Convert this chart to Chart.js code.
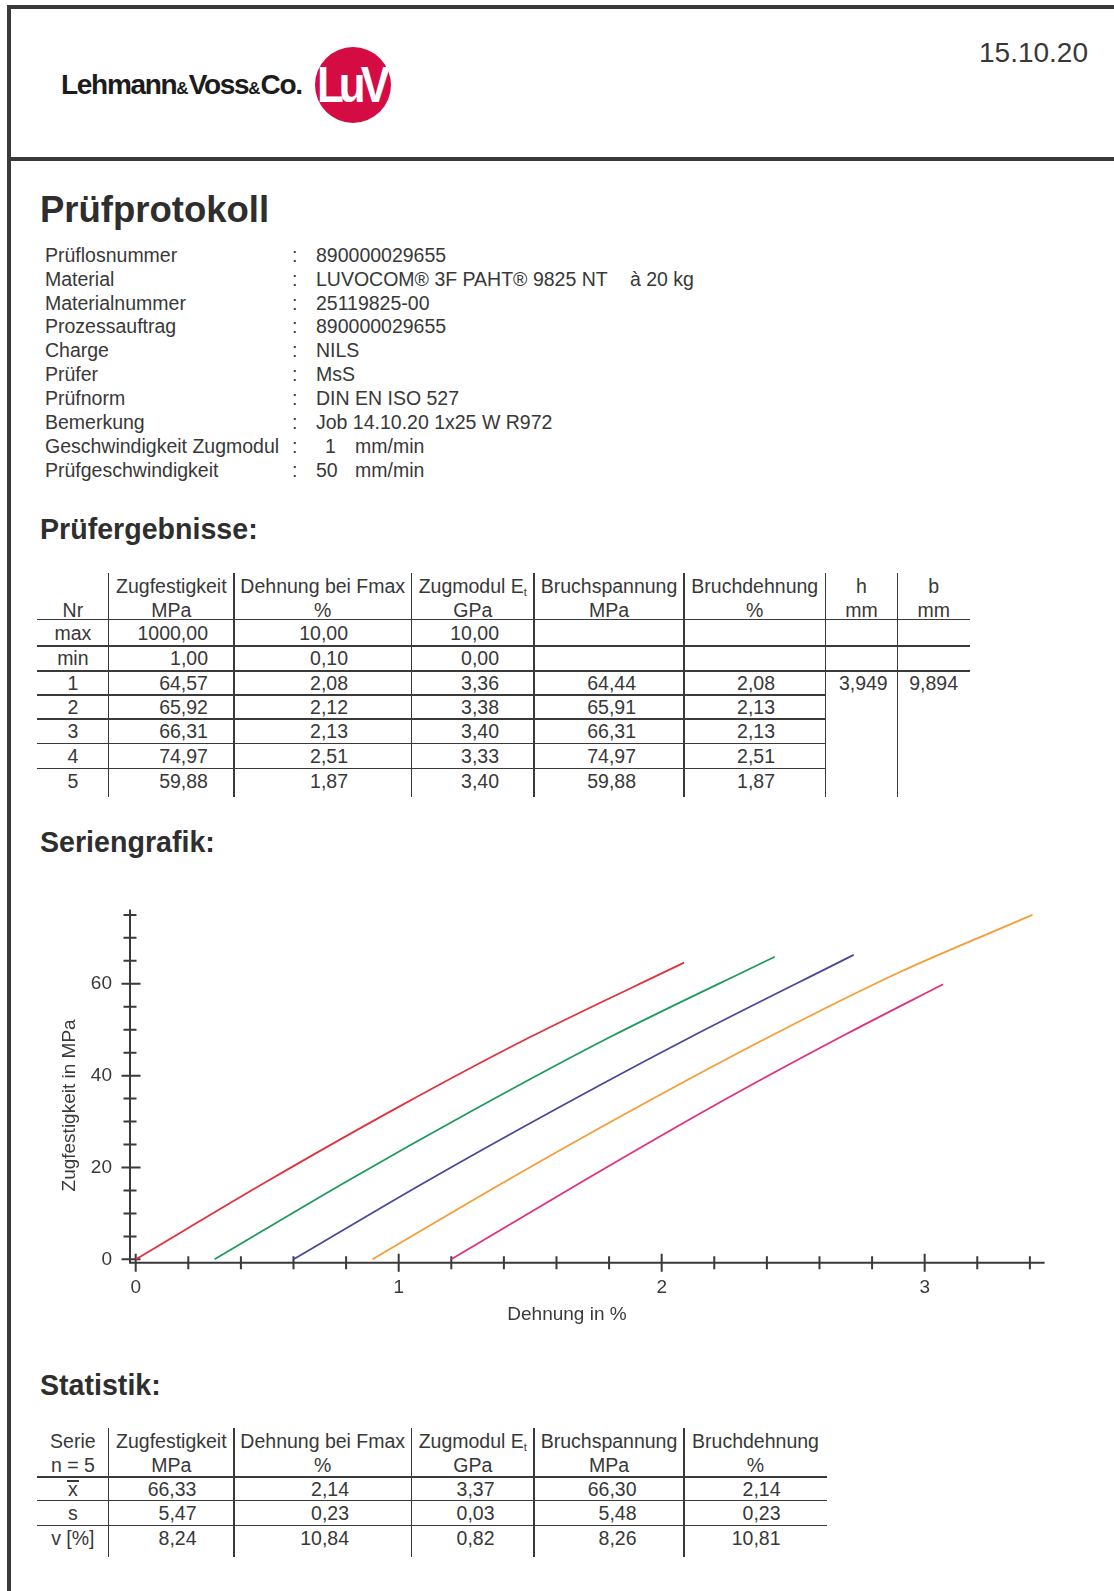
<!DOCTYPE html>
<html lang="de">
<head>
<meta charset="utf-8">
<title>Prüfprotokoll</title>
<script src="https://cdn.jsdelivr.net/npm/chart.js@4.4.0/dist/chart.umd.min.js"></script>
<style>
  html, body { margin: 0; padding: 0; background: #fff; }
  body {
    width: 1114px; height: 1591px; position: relative; overflow: hidden;
    font-family: "Liberation Sans", Arial, sans-serif; color: #383838;
  }
  .abs { position: absolute; white-space: nowrap; }
  .rule { position: absolute; background: #3a3a3a; }
  .h1 { font-weight: bold; font-size: 36.5px; line-height: 44px; color: #2e2e2e; }
  .h2 { font-weight: bold; font-size: 28.6px; line-height: 34px; color: #2e2e2e; }
  .txt { font-size: 19.5px; line-height: 24px; }
  .cell { position: absolute; white-space: nowrap; font-size: 19.5px; line-height: 24px; height: 24px; }
  .cell sub { font-size: 11px; vertical-align: -3px; }
  .bar { display: inline-block; border-top: 2.5px solid #383838; line-height: 15px; padding: 0 1px; }
  #logoText { left: 61px; top: 69px; font-size: 28px; line-height: 32px; font-weight: bold; color: #1c1c1c; letter-spacing: -1.3px; }
  #logoText .amp { font-size: 17px; letter-spacing: 0; }
  #logoCircle {
    position: absolute; left: 315px; top: 47px; width: 76px; height: 76px; border-radius: 50%;
    background: #d50b43; color: #fff; text-align: center;
    font: bold 44px/76px "Liberation Sans", Arial, sans-serif; letter-spacing: -5px;
  }
  #logoCircle span { display: inline-block; transform: scaleY(1.15); margin-left: -4px; }
  #chartBox { position: absolute; left: 40px; top: 880px; width: 1040px; height: 460px; }
</style>
</head>
<body>

<!-- Rahmen -->
<div class="rule" style="left:7px; top:5px; width:1107px; height:3.5px;"></div>
<div class="rule" style="left:7px; top:5px; width:4px; height:1586px;"></div>
<div class="rule" style="left:7px; top:156.5px; width:1107px; height:4.5px;"></div>

<!-- Kopf -->
<div id="logoText" class="abs">Lehmann<span class="amp">&amp;</span>Voss<span class="amp">&amp;</span>Co.</div>
<div id="logoCircle"><span>LuV</span></div>
<div class="abs" style="left:979px; top:36px; font-size:28px; line-height:34px;">15.10.20</div>

<div class="abs h1" style="left:40px; top:188px;">Prüfprotokoll</div>
<div id="info"></div>

<div class="abs h2" style="left:40px; top:512px;">Prüfergebnisse:</div>
<div id="results"></div>

<div class="abs h2" style="left:40px; top:825px;">Seriengrafik:</div>
<div id="chartBox"><canvas id="curveChart" width="1040" height="460"></canvas></div>

<div class="abs h2" style="left:40px; top:1368px;">Statistik:</div>
<div id="stats"></div>

<script>
// ---- Kopfdaten ----
const infoLabels = ['Prüflosnummer', 'Material', 'Materialnummer', 'Prozessauftrag', 'Charge',
  'Prüfer', 'Prüfnorm', 'Bemerkung', 'Geschwindigkeit Zugmodul', 'Prüfgeschwindigkeit'];
const infoValues = ['890000029655', 'LUVOCOM® 3F PAHT® 9825 NT', '25119825-00', '890000029655', 'NILS',
  'MsS', 'DIN EN ISO 527', 'Job 14.10.20 1x25 W R972', '1', '50'];
const infoExtras = ['', 'à 20 kg', '', '', '', '', '', '', 'mm/min', 'mm/min'];

// ---- Prüfergebnisse ----
const resultHead1 = ['', 'Zugfestigkeit', 'Dehnung bei Fmax', 'Zugmodul E<sub>t</sub>', 'Bruchspannung', 'Bruchdehnung', 'h', 'b'];
const resultHead2 = ['Nr', 'MPa', '%', 'GPa', 'MPa', '%', 'mm', 'mm'];
const resultRows = [
  ['max', '1000,00', '10,00', '10,00', '', '', '', ''],
  ['min', '1,00', '0,10', '0,00', '', '', '', ''],
  ['1', '64,57', '2,08', '3,36', '64,44', '2,08', '3,949', '9,894'],
  ['2', '65,92', '2,12', '3,38', '65,91', '2,13', '', ''],
  ['3', '66,31', '2,13', '3,40', '66,31', '2,13', '', ''],
  ['4', '74,97', '2,51', '3,33', '74,97', '2,51', '', ''],
  ['5', '59,88', '1,87', '3,40', '59,88', '1,87', '', '']
];

// ---- Statistik ----
const statHead1 = ['Serie', 'Zugfestigkeit', 'Dehnung bei Fmax', 'Zugmodul E<sub>t</sub>', 'Bruchspannung', 'Bruchdehnung'];
const statHead2 = ['n = 5', 'MPa', '%', 'GPa', 'MPa', '%'];
const statRows = [
  ['<span class="bar">x</span>', '66,33', '2,14', '3,37', '66,30', '2,14'],
  ['s', '5,47', '0,23', '0,03', '5,48', '0,23'],
  ['v [%]', '8,24', '10,84', '0,82', '8,26', '10,81']
];

// ---- Seriengrafik: Spannungs-Dehnungs-Kurven (Dehnung in %, Zugfestigkeit in MPa) ----
const strain1 = [0, 0.5, 1.0, 1.5, 2.085];
const stress1 = [0, 17.0, 33.2, 48.4, 64.6];
const strain2 = [0.3, 0.8, 1.3, 1.8, 2.43];
const stress2 = [0, 16.9, 33.0, 48.3, 65.9];
const strain3 = [0.6, 1.1, 1.6, 2.1, 2.73];
const stress3 = [0, 16.8, 32.8, 48.1, 66.3];
const strain4 = [0.9, 1.4, 1.9, 2.4, 2.9, 3.41];
const stress4 = [0, 16.8, 32.9, 48.2, 62.4, 75.0];
const strain5 = [1.2, 1.7, 2.2, 2.7, 3.07];
const stress5 = [0, 17.0, 33.5, 49.0, 59.9];
const seriesColors = ['#e1323d', '#1f9a5f', '#4a489b', '#f59d37', '#e03082'];

const xTickMarks = [0, 0.2, 0.4, 0.6, 0.8, 1, 1.2, 1.4, 1.6, 1.8, 2, 2.2, 2.4, 2.6, 2.8, 3, 3.2, 3.4];
const xTickLabels = [0, 1, 2, 3];
const yTickMarks = [0, 5, 10, 15, 20, 25, 30, 35, 40, 45, 50, 55, 60, 65, 70, 75];
const yTickLabels = [0, 20, 40, 60];
const xTitle = 'Dehnung in %';
const yTitle = 'Zugfestigkeit in MPa';

// ---------- Helfer ----------
function addDiv(parent, cls, html, style) {
  const d = document.createElement('div');
  d.className = cls;
  d.innerHTML = html;
  Object.assign(d.style, style);
  parent.appendChild(d);
  return d;
}
function hLine(parent, x1, x2, y, w) {
  addDiv(parent, 'rule', '', { left: x1 + 'px', top: (y - w / 2) + 'px', width: (x2 - x1) + 'px', height: w + 'px' });
}
function vLine(parent, x, y1, y2) {
  addDiv(parent, 'rule', '', { left: (x - 0.75) + 'px', top: y1 + 'px', width: '1.5px', height: (y2 - y1) + 'px' });
}
// Text zentriert oder rechtsbuendig in einer Spalte
function cellText(parent, html, x1, x2, cy, rightEdge) {
  const style = { top: (cy - 12) + 'px', left: x1 + 'px' };
  if (rightEdge) {
    style.width = (rightEdge - x1) + 'px'; style.textAlign = 'right';
  } else {
    style.width = (x2 - x1) + 'px'; style.textAlign = 'center';
  }
  addDiv(parent, 'cell', html, style);
}

// ---------- Kopfblock ----------
const info = document.getElementById('info');
infoLabels.forEach((label, i) => {
  const cy = 254.7 + i * 23.9;
  addDiv(info, 'abs txt', label, { left: '45px', top: (cy - 12) + 'px' });
  addDiv(info, 'abs txt', ':', { left: '292px', top: (cy - 12) + 'px' });
  const valX = infoValues[i] === '1' ? 325 : 316;
  addDiv(info, 'abs txt', infoValues[i], { left: valX + 'px', top: (cy - 12) + 'px' });
  if (infoExtras[i]) {
    const exX = infoExtras[i] === 'mm/min' ? 355 : 630;
    addDiv(info, 'abs txt', infoExtras[i], { left: exX + 'px', top: (cy - 12) + 'px' });
  }
});

// ---------- Ergebnistabelle ----------
const res = document.getElementById('results');
const rCols = [37, 108.7, 234, 411.5, 534, 684, 825.5, 897.5, 970];
const rRight = [null, 208, 348, 499, 636, 775, 887.7, 958];
const rRowLines = [619.3, 646, 670.7, 695, 719, 743.3, 768.3];
resultHead1.forEach((t, c) => { if (t) cellText(res, t, rCols[c], rCols[c + 1], 585.5); });
resultHead2.forEach((t, c) => cellText(res, t, rCols[c], rCols[c + 1], 610));
resultRows.forEach((row, r) => {
  const top = rRowLines[r];
  const bottom = r + 1 < rRowLines.length ? rRowLines[r + 1] : top + 24.4;
  const cy = (top + bottom) / 2;
  row.forEach((t, c) => { if (t) cellText(res, t, rCols[c], rCols[c + 1], cy, rRight[c]); });
});
hLine(res, 37, 970, rRowLines[0], 1.6);
hLine(res, 37, 970, rRowLines[1], 1.6);
hLine(res, 37, 970, rRowLines[2], 2.4);
for (let i = 3; i < rRowLines.length; i++) hLine(res, 37, 825.5, rRowLines[i], 1.6);
for (let c = 1; c <= 7; c++) vLine(res, rCols[c], 573, 796.5);

// ---------- Statistiktabelle ----------
const st = document.getElementById('stats');
const sCols = [37, 108.7, 234, 411.5, 534, 684, 827];
const sRight = [null, 196.5, 349, 494.5, 636.5, 780.5];
const sRowLines = [1477.3, 1500.7, 1525.7];
statHead1.forEach((t, c) => cellText(st, t, sCols[c], sCols[c + 1], 1440.5));
statHead2.forEach((t, c) => cellText(st, t, sCols[c], sCols[c + 1], 1464.5));
statRows.forEach((row, r) => {
  const top = sRowLines[r];
  const bottom = r + 1 < sRowLines.length ? sRowLines[r + 1] : top + 24;
  const cy = (top + bottom) / 2;
  row.forEach((t, c) => cellText(st, t, sCols[c], sCols[c + 1], cy, sRight[c]));
});
sRowLines.forEach((y, i) => hLine(st, 37, 827, y, i === 0 ? 1.8 : 1.6));
for (let c = 1; c <= 5; c++) vLine(st, sCols[c], 1428.3, 1556.7);

// ---------- Diagramm ----------
const axisColor = '#3a3a3a';
const toPoints = (xs, ys) => xs.map((v, i) => ({ x: v, y: ys[i] }));
const allStrain = [strain1, strain2, strain3, strain4, strain5];
const allStress = [stress1, stress2, stress3, stress4, stress5];

// Achsen mit durchgehenden Teilstrichen (wie im Prüfprotokoll)
const crossAxes = {
  id: 'crossAxes',
  beforeDatasetsDraw(chart) {
    const { ctx, chartArea: a, scales: { x, y } } = chart;
    ctx.save();
    ctx.strokeStyle = axisColor;
    ctx.lineWidth = 2;
    ctx.beginPath();
    ctx.moveTo(a.left, a.top);
    ctx.lineTo(a.left, a.bottom + 1);
    ctx.moveTo(a.left, a.bottom);
    ctx.lineTo(a.right, a.bottom);
    xTickMarks.forEach(v => {
      const px = x.getPixelForValue(v);
      const len = xTickLabels.includes(v) ? 9 : 6.5;
      ctx.moveTo(px, a.bottom - len);
      ctx.lineTo(px, a.bottom + len);
    });
    yTickMarks.forEach(v => {
      const py = y.getPixelForValue(v);
      const major = yTickLabels.includes(v);
      ctx.moveTo(a.left - (major ? 8.5 : 6.5), py);
      ctx.lineTo(a.left + (major ? 10.5 : 6.5), py);
    });
    ctx.stroke();

    ctx.fillStyle = '#3a3a3a';
    ctx.font = '19px "Liberation Sans", Arial, sans-serif';
    ctx.textAlign = 'center';
    ctx.textBaseline = 'middle';
    ctx.fillText(xTitle, a.left + 437, a.bottom + 52);
    ctx.translate(a.left - 60, a.top + 196);
    ctx.rotate(-Math.PI / 2);
    ctx.fillText(yTitle, 0, 0);
    ctx.restore();
  }
};

new Chart(document.getElementById('curveChart'), {
  type: 'scatter',
  data: {
    datasets: allStrain.map((xs, i) => ({
      label: 'Probe ' + (i + 1),
      data: toPoints(xs, allStress[i]),
      showLine: true,
      borderColor: seriesColors[i],
      backgroundColor: seriesColors[i],
      borderWidth: 1.8,
      pointRadius: 0,
      cubicInterpolationMode: 'monotone',
      clip: false
    }))
  },
  options: {
    responsive: false,
    animation: false,
    events: [],
    layout: { padding: { left: 0, top: 26.7, right: 35.4, bottom: 0 } },
    plugins: { legend: { display: false }, tooltip: { enabled: false } },
    scales: {
      x: {
        type: 'linear',
        min: -0.0217,
        max: 3.456,
        afterFit: scale => { scale.height = 77.3; },
        afterBuildTicks: axis => { axis.ticks = xTickLabels.map(v => ({ value: v })); },
        grid: { display: false, drawTicks: false },
        border: { display: false },
        ticks: {
          padding: 14,
          color: '#3a3a3a',
          font: { family: '"Liberation Sans", Arial, sans-serif', size: 19 },
          maxRotation: 0,
          callback: v => String(v)
        }
      },
      y: {
        type: 'linear',
        min: -0.73,
        max: 76.2,
        afterFit: scale => { scale.width = 90; },
        afterBuildTicks: axis => { axis.ticks = yTickLabels.map(v => ({ value: v })); },
        grid: { display: false, drawTicks: false },
        border: { display: false },
        ticks: {
          padding: 18,
          color: '#3a3a3a',
          font: { family: '"Liberation Sans", Arial, sans-serif', size: 19 },
          callback: v => String(v)
        }
      }
    }
  },
  plugins: [crossAxes]
});
</script>
</body>
</html>
